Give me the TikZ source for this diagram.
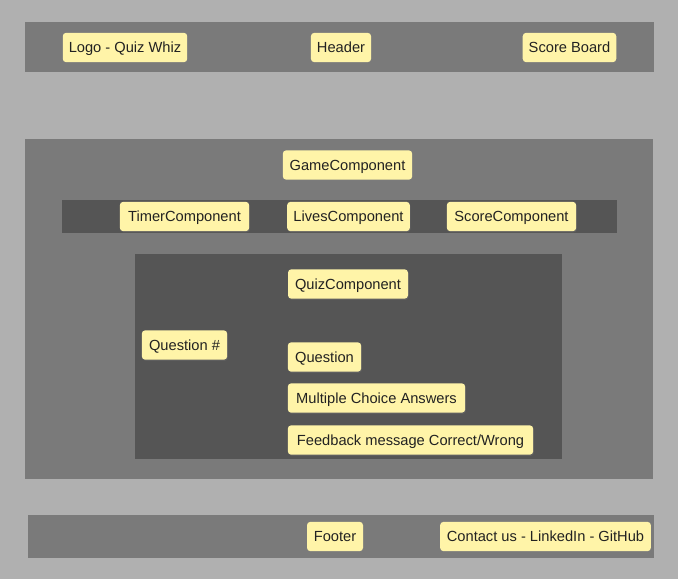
\documentclass[tikz,border=0pt]{standalone}
\usepackage{fontspec}
\setmainfont{Liberation Sans}
\usetikzlibrary{positioning,shadows}
\definecolor{bg}{RGB}{176,176,176}
\definecolor{pnl}{RGB}{122,122,122}
\definecolor{drk}{RGB}{85,85,85}
\definecolor{stk}{RGB}{255,244,168}
\definecolor{ink}{RGB}{34,34,34}

\begin{document}
\begin{tikzpicture}[
    x=0.75pt,y=-0.75pt,
    note/.style={rectangle,rounded corners=2.5pt,fill=stk,text=ink,font=\fontsize{11}{13}\selectfont,
      minimum height=22pt,inner xsep=4.5pt,text height=8.8pt,text depth=1.2pt,
      drop shadow={opacity=0.25,shadow xshift=0.6pt,shadow yshift=-0.9pt}},
    panel/.style={fill=pnl},
    strip/.style={fill=drk},
]
\fill[bg] (0,0) rectangle (678,579);
\useasboundingbox (0,0) rectangle (678,579);

% header
\fill[panel] (25,22) rectangle (654,72);
\node[note,minimum width=93pt] (logo) at (125,47.5) {Logo - Quiz Whiz};
\node[note,minimum width=45pt] (hdr) at (341,47.5) {Header};
\node[note,minimum width=70pt] (score) at (569.5,47.5) {Score Board};

% game
\fill[panel] (25,139) rectangle (653,479);
\node[note,minimum width=97pt] (game) at (347.5,165) {GameComponent};
\fill[strip] (62,200) rectangle (617,233);
\node[note,minimum width=97pt] (timer) at (184.5,216.5) {TimerComponent};
\node[note,minimum width=92pt] (lives) at (348.5,216.5) {LivesComponent};
\node[note,minimum width=97pt] (scorec) at (511.5,216.5) {ScoreComponent};

% quiz
\fill[strip] (135,254) rectangle (562,459);
\node[note,minimum width=90pt] (quiz) at (348,284) {QuizComponent};
\node[note,minimum width=64pt] (qnum) at (184.5,345) {Question \#};
\node[note,minimum width=55pt] (quest) at (324.5,357) {Question};
\node[note,minimum width=133pt] (mca) at (376.5,398) {Multiple Choice Answers};
\node[note,minimum width=184pt] (fb) at (410.5,440) {Feedback message Correct/Wrong};

% footer
\fill[panel] (28,515) rectangle (654,558);
\node[note,minimum width=42pt] (foot) at (335,536.5) {Footer};
\node[note,minimum width=158pt] (contact) at (545.5,536.5) {Contact us - LinkedIn - GitHub};
\end{tikzpicture}
\end{document}
